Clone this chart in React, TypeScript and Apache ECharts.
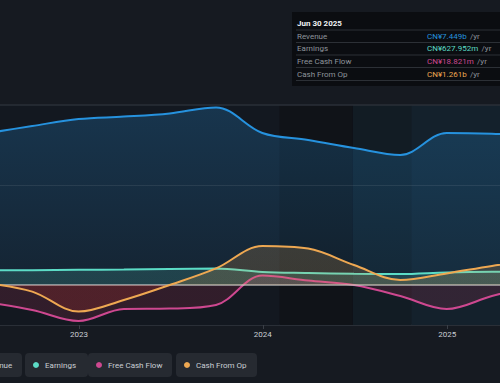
import React, { useEffect, useRef } from "react";
import * as echarts from "echarts";

const dates = [
  "2022-06-30", "2022-09-30", "2022-12-31", "2023-03-31", "2023-06-30", "2023-09-30",
  "2023-12-31", "2024-03-31", "2024-06-30", "2024-09-30", "2024-12-31", "2025-03-31", "2025-06-30",
];
// values in CN¥ billions
const revenue = [7.58, 7.95, 8.3, 8.42, 8.58, 8.88, 7.6, 7.25, 6.85, 6.5, 7.6, 7.56, 7.449];
const earnings = [0.73, 0.74, 0.76, 0.77, 0.8, 0.82, 0.65, 0.6, 0.56, 0.55, 0.63, 0.66, 0.628];
const freeCashFlow = [-0.85, -1.25, -1.8, -1.2, -1.18, -1.0, 0.47, 0.22, 0.0, -0.55, -1.2, -0.55, 0.019];
const cashFromOp = [0.1, -0.33, -1.33, -0.75, 0.0, 0.83, 1.95, 1.82, 1.0, 0.25, 0.58, 0.95, 1.261];

const seriesNames = ["Revenue", "Earnings", "Free Cash Flow", "Cash From Op"];
const seriesColors = ["#2692de", "#5cdcc6", "#ce4890", "#eea852"];
const yearTicks = ["2023-01-01", "2024-01-01", "2025-01-01"];
const tooltipDate = "Jun 30 2025";
const tooltipValues = ["CN¥7.449b", "CN¥627.952m", "CN¥18.821m", "CN¥1.261b"];
const bandEdges = ["2022-07-28", "2024-02-03", "2024-06-28", "2024-10-22", "2025-04-16"];
const bandColors = ["#131820", "#101318", "#121c24", "#14212c"];

const FONT = "Roboto, 'Noto Sans', sans-serif";
const GRID_TOP = 105;
const GRID_H = 220;
const Y_MIN = -2;
const Y_MAX = 9;

const t = (d: string) => Date.parse(d + "T00:00:00Z");

function rgba(hex: string, a: number) {
  const n = parseInt(hex.slice(1), 16);
  return `rgba(${(n >> 16) & 255},${(n >> 8) & 255},${n & 255},${a})`;
}

function splitGradient(pos: string, neg: string) {
  const zeroOff = (Y_MAX - 0) / (Y_MAX - Y_MIN);
  return new echarts.graphic.LinearGradient(
    0, GRID_TOP, 0, GRID_TOP + GRID_H,
    [
      { offset: 0, color: pos },
      { offset: zeroOff, color: pos },
      { offset: zeroOff, color: neg },
      { offset: 1, color: neg },
    ],
    true
  );
}

export default function App() {
  const ref = useRef<HTMLDivElement>(null);

  useEffect(() => {
    document.body.style.margin = "0";
    document.body.style.background = "#161a21";
    if (!ref.current) return;
    const chart = echarts.init(ref.current, undefined, { renderer: "svg" });

    const toData = (vals: number[]) => vals.map((v, i) => [t(dates[i]), v]);
    const xMin = t(bandEdges[0]);
    const xMax = t(bandEdges[bandEdges.length - 1]);

    const lineBase = (i: number, z: number) => ({
      type: "line",
      name: seriesNames[i],
      smooth: 0.35,
      showSymbol: false,
      symbol: "none",
      z,
      lineStyle: { color: seriesColors[i], width: 2 },
      itemStyle: { color: seriesColors[i] },
      silent: true,
    });

    // legend pills
    const pillX = [-38, 25, 88, 176];
    const pillW = [60, 63, 84, 81];
    const legendEls: any[] = [];
    seriesNames.forEach((name, i) => {
      legendEls.push({
        type: "rect",
        shape: { x: pillX[i], y: 353, width: pillW[i], height: 24, r: 4 },
        style: { fill: "#262a31" },
      });
      legendEls.push({
        type: "circle",
        shape: { cx: pillX[i] + 11, cy: 365, r: 3 },
        style: { fill: seriesColors[i] },
      });
      legendEls.push({
        type: "text",
        x: pillX[i] + 20,
        y: 365,
        style: {
          text: name,
          fill: "#c9ced4",
          font: `8px ${FONT}`,
          verticalAlign: "middle",
          textAlign: "left",
        },
      });
    });

    // tooltip box
    const tipEls: any[] = [
      { type: "rect", shape: { x: 292, y: 12, width: 220, height: 74 }, style: { fill: "#0b0d11" } },
      {
        type: "text", x: 297, y: 23,
        style: { text: tooltipDate, fill: "#f0f2f4", font: `bold 8px ${FONT}`, verticalAlign: "middle" },
      },
    ];
    const rowY = [36, 48.5, 61, 74];
    const sepY = [30, 42.5, 55, 67.5, 80.5];
    sepY.forEach((y) =>
      tipEls.push({
        type: "line",
        shape: { x1: 296, y1: y, x2: 500, y2: y },
        style: { stroke: "#2c3036", lineWidth: 1 },
      })
    );
    seriesNames.forEach((name, i) => {
      tipEls.push({
        type: "text", x: 297, y: rowY[i],
        style: { text: name, fill: "#8e949b", font: `8px ${FONT}`, verticalAlign: "middle" },
      });
      tipEls.push({
        type: "text", x: 427, y: rowY[i],
        style: {
          text: `{v|${tooltipValues[i]}} {u|/yr}`,
          verticalAlign: "middle",
          rich: {
            v: { fill: seriesColors[i], font: `8px ${FONT}` },
            u: { fill: "#8e949b", font: `8px ${FONT}` },
          },
        },
      });
    });

    const option: any = {
      animation: false,
      backgroundColor: "#161a21",
      textStyle: { fontFamily: FONT },
      grid: { left: 0, right: 0, top: GRID_TOP, height: GRID_H, containLabel: false },
      xAxis: {
        type: "value",
        min: xMin,
        max: xMax,
        splitLine: { show: false },
        axisLine: { show: true, onZero: false, lineStyle: { color: "#2a2f37", width: 2 } },
        axisTick: {
          show: true,
          customValues: yearTicks.map(t),
          length: 4,
          lineStyle: { color: "#3a3f47", width: 1 },
        },
        axisLabel: {
          customValues: yearTicks.map(t),
          formatter: (v: number) => String(new Date(v).getUTCFullYear()),
          color: "#c9cdd3",
          fontSize: 8,
          fontFamily: FONT,
          margin: 5,
        },
      },
      yAxis: {
        type: "value",
        min: Y_MIN,
        max: Y_MAX,
        show: false,
        splitLine: { show: false },
      },
      series: [
        {
          type: "line",
          name: "bands",
          data: toData(revenue),
          showSymbol: false,
          symbol: "none",
          lineStyle: { width: 0, opacity: 0 },
          silent: true,
          z: 0,
          markArea: {
            silent: true,
            data: bandColors.map((c, i) => [
              { xAxis: t(bandEdges[i]), itemStyle: { color: c } },
              { xAxis: t(bandEdges[i + 1]) },
            ]),
          },
        },
        {
          ...lineBase(0, 2),
          data: toData(revenue),
          areaStyle: {
            color: new echarts.graphic.LinearGradient(0, 0, 0, 1, [
              { offset: 0, color: rgba(seriesColors[0], 0.34) },
              { offset: 1, color: rgba(seriesColors[0], 0.14) },
            ]),
          },
        },
        {
          ...lineBase(1, 3),
          data: toData(earnings),
          areaStyle: { color: splitGradient(rgba(seriesColors[1], 0.23), "rgba(200,55,95,0.22)") },
        },
        {
          ...lineBase(2, 4),
          data: toData(freeCashFlow),
          areaStyle: { color: splitGradient(rgba(seriesColors[2], 0.2), "rgba(200,55,95,0.24)") },
        },
        {
          ...lineBase(3, 5),
          data: toData(cashFromOp),
          areaStyle: { color: splitGradient(rgba(seriesColors[3], 0.26), "rgba(200,50,40,0.28)") },
        },
        {
          type: "line",
          name: "guides",
          data: toData(revenue),
          showSymbol: false,
          symbol: "none",
          lineStyle: { width: 0, opacity: 0 },
          silent: true,
          z: 6,
          markLine: {
            silent: true,
            symbol: "none",
            label: { show: false },
            data: [
              { yAxis: 0, lineStyle: { color: "rgba(205,205,205,0.6)", width: 2, type: "solid" } },
              { yAxis: 5, lineStyle: { color: "rgba(255,255,255,0.08)", width: 1, type: "solid" } },
              { yAxis: 9, lineStyle: { color: "#2a2f37", width: 1.5, type: "solid" } },
            ],
          },
        },
      ],
      graphic: [
        { type: "group", z: 100, children: legendEls },
        { type: "group", z: 100, children: tipEls },
      ],
    };

    chart.setOption(option);
    return () => chart.dispose();
  }, []);

  return (
    <div
      ref={ref}
      style={{ position: "fixed", left: 0, top: 0, width: 500, height: 383, background: "#161a21" }}
    />
  );
}
